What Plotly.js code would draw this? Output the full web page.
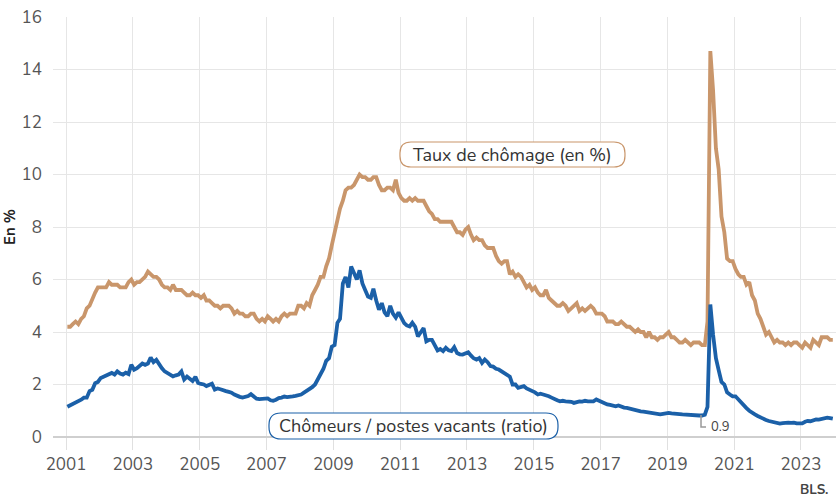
<!DOCTYPE html>
<html>
<head>
<meta charset="utf-8">
<script src="https://cdn.plot.ly/plotly-3.0.1.min.js"></script>
<style>
  html, body { margin: 0; padding: 0; background: #ffffff; }
  #chart { width: 838px; height: 499px; }
</style>
</head>
<body>
<div id="chart"></div>
<script>
// Monthly series, January 2001 to December 2023
const startYear = 2001;

// Taux de chômage (en %)
const tauxChomage = [
  4.2,4.2,4.3,4.4,4.3,4.5,4.6,4.9,5.0,5.3,5.5,5.7,
  5.7,5.7,5.7,5.9,5.8,5.8,5.8,5.7,5.7,5.7,5.9,6.0,
  5.8,5.9,5.9,6.0,6.1,6.3,6.2,6.1,6.1,6.0,5.8,5.7,
  5.7,5.6,5.8,5.6,5.6,5.6,5.5,5.4,5.4,5.5,5.4,5.4,
  5.3,5.4,5.2,5.2,5.1,5.0,5.0,4.9,5.0,5.0,5.0,4.9,
  4.7,4.8,4.7,4.7,4.6,4.6,4.7,4.7,4.5,4.4,4.5,4.4,
  4.6,4.5,4.4,4.5,4.4,4.6,4.7,4.6,4.7,4.7,4.7,5.0,
  5.0,4.9,5.1,5.0,5.4,5.6,5.8,6.1,6.1,6.5,6.8,7.3,
  7.8,8.3,8.7,9.0,9.4,9.5,9.5,9.6,9.8,10.0,9.9,9.9,
  9.8,9.8,9.9,9.9,9.6,9.4,9.4,9.5,9.5,9.4,9.8,9.3,
  9.1,9.0,9.0,9.1,9.0,9.1,9.0,9.0,9.0,8.8,8.6,8.5,
  8.3,8.3,8.2,8.2,8.2,8.2,8.2,8.0,7.8,7.8,7.7,7.9,
  8.0,7.7,7.5,7.6,7.5,7.5,7.3,7.2,7.2,7.2,6.9,6.7,
  6.6,6.7,6.7,6.2,6.3,6.1,6.2,6.1,5.9,5.7,5.8,5.6,
  5.7,5.5,5.4,5.4,5.6,5.3,5.2,5.1,5.0,5.0,5.1,5.0,
  4.8,4.9,5.0,5.1,4.8,4.9,4.8,4.9,5.0,4.9,4.7,4.7,
  4.7,4.6,4.4,4.4,4.4,4.3,4.3,4.4,4.3,4.2,4.2,4.1,
  4.0,4.1,4.0,4.0,3.8,4.0,3.8,3.8,3.7,3.8,3.8,3.9,
  4.0,3.8,3.8,3.7,3.6,3.6,3.7,3.6,3.5,3.6,3.6,3.6,
  3.5,3.5,4.4,14.7,13.2,11.0,10.2,8.4,7.8,6.8,6.7,6.7,
  6.4,6.2,6.1,6.1,5.8,5.9,5.4,5.2,4.7,4.5,4.2,3.9,
  4.0,3.8,3.6,3.7,3.6,3.6,3.5,3.6,3.5,3.6,3.6,3.5,
  3.4,3.6,3.5,3.4,3.7,3.6,3.5,3.8,3.8,3.8,3.7,3.7
];

// Chômeurs / postes vacants (ratio)
const ratioChomeursPostes = [
  1.15,1.2,1.28,1.33,1.38,1.42,1.5,1.5,1.75,1.8,2.05,2.1,
  2.25,2.3,2.38,2.42,2.44,2.38,2.5,2.42,2.38,2.45,2.4,2.75,
  2.56,2.62,2.69,2.8,2.75,2.8,3.03,2.85,2.94,2.75,2.62,2.5,
  2.42,2.38,2.31,2.35,2.38,2.5,2.19,2.3,2.2,2.13,2.29,2.06,
  2.02,2.0,1.94,1.97,2.03,1.81,1.85,1.82,1.8,1.75,1.72,1.69,
  1.62,1.56,1.53,1.5,1.52,1.56,1.63,1.55,1.46,1.44,1.45,1.45,
  1.47,1.4,1.38,1.42,1.48,1.5,1.54,1.52,1.55,1.55,1.57,1.59,
  1.62,1.69,1.75,1.81,1.9,2.0,2.2,2.4,2.6,2.9,3.0,3.44,
  3.5,4.35,4.5,5.85,6.1,5.7,6.5,6.25,6.0,6.35,5.85,5.6,
  5.35,5.3,5.65,5.2,4.85,5.1,4.75,4.6,5.0,4.7,4.55,4.75,
  4.5,4.34,4.25,4.21,4.35,4.2,3.83,4.0,4.15,3.64,3.7,3.7,
  3.5,3.3,3.35,3.27,3.4,3.3,3.27,3.42,3.2,3.15,3.14,3.2,
  3.23,3.1,3.0,2.95,3.01,2.82,2.95,2.85,2.7,2.68,2.6,2.57,
  2.5,2.45,2.35,2.3,2.0,2.0,1.87,1.9,1.94,1.85,1.81,1.75,
  1.7,1.62,1.65,1.62,1.6,1.55,1.5,1.43,1.4,1.36,1.38,1.36,
  1.36,1.34,1.3,1.33,1.36,1.35,1.38,1.36,1.35,1.36,1.43,1.38,
  1.3,1.28,1.24,1.22,1.2,1.17,1.2,1.15,1.12,1.11,1.08,1.05,
  1.05,1.02,0.98,0.97,0.95,0.93,0.92,0.9,0.9,0.86,0.88,0.9,
  0.92,0.9,0.88,0.86,0.87,0.86,0.85,0.86,0.84,0.82,0.8,0.82,
  0.82,0.85,1.15,5.05,3.9,3.0,2.55,2.1,2.0,1.7,1.62,1.55,
  1.55,1.42,1.3,1.18,1.1,1.0,0.95,0.86,0.8,0.74,0.7,0.65,
  0.61,0.58,0.55,0.52,0.51,0.53,0.55,0.55,0.54,0.55,0.52,0.51,
  0.52,0.58,0.61,0.6,0.65,0.67,0.66,0.68,0.7,0.74,0.72,0.7
];

const labelTaux = 'Taux de chômage (en %)';
const labelRatio = 'Chômeurs / postes vacants (ratio)';
const labelPreCovid = '0.9';
const sourceText = 'BLS.';
const yTitle = 'En %';

function monthDates(n) {
  const out = [];
  for (let i = 0; i < n; i++) {
    const y = startYear + Math.floor(i / 12);
    const m = (i % 12) + 1;
    out.push(y + '-' + String(m).padStart(2, '0') + '-15');
  }
  return out;
}
const dates = monthDates(tauxChomage.length);

const TAN = '#c9966b';
const BLUE = '#1b60a8';
const FONT = 'Nunito, Lato, "Open Sans", sans-serif';

function pill(w, h, r) {
  return 'M ' + (-w + r) + ',' + (-h) +
    ' L ' + (w - r) + ',' + (-h) +
    ' Q ' + w + ',' + (-h) + ' ' + w + ',' + (-h + r) +
    ' L ' + w + ',' + (h - r) +
    ' Q ' + w + ',' + h + ' ' + (w - r) + ',' + h +
    ' L ' + (-w + r) + ',' + h +
    ' Q ' + (-w) + ',' + h + ' ' + (-w) + ',' + (h - r) +
    ' L ' + (-w) + ',' + (-h + r) +
    ' Q ' + (-w) + ',' + (-h) + ' ' + (-w + r) + ',' + (-h) + ' Z';
}

const traces = [
  {
    x: dates, y: tauxChomage, type: 'scatter', mode: 'lines', name: labelTaux,
    line: { color: TAN, width: 3.8 }, hoverinfo: 'x+y'
  },
  {
    x: dates, y: ratioChomeursPostes, type: 'scatter', mode: 'lines', name: labelRatio,
    line: { color: BLUE, width: 3.8 }, hoverinfo: 'x+y'
  }
];

const layout = {
  width: 838, height: 499,
  margin: { l: 53, r: 2, t: 17, b: 62 },
  paper_bgcolor: '#ffffff', plot_bgcolor: '#ffffff',
  showlegend: false,
  font: { family: FONT, color: '#555555', size: 15 },
  xaxis: {
    type: 'date',
    range: ['2000-08-11', '2024-01-19'],
    tick0: '2001-01-01', dtick: 'M24', tickformat: '%Y',
    showgrid: true, gridcolor: '#e6e6e6', gridwidth: 1,
    ticks: 'outside', ticklen: 12, tickcolor: '#e0e0e0', tickwidth: 1,
    showline: false, zeroline: false,
    tickfont: { family: FONT, size: 17, color: '#555555' },
    ticklabelstandoff: 0,
    fixedrange: true
  },
  yaxis: {
    range: [0, 16], dtick: 2, tick0: 0,
    showgrid: true, gridcolor: '#e6e6e6', gridwidth: 1,
    zeroline: true, zerolinecolor: '#cfcfcf', zerolinewidth: 1.5,
    showline: false, ticks: '',
    tickfont: { family: FONT, size: 17, color: '#555555' },
    ticklabelstandoff: 10,
    title: { text: yTitle, standoff: 4, font: { family: FONT, size: 15, color: '#222222', weight: 700 } },
    fixedrange: true
  },
  shapes: [
    {
      type: 'path', xref: 'paper', yref: 'paper',
      xsizemode: 'pixel', ysizemode: 'pixel',
      xanchor: 0.5868, yanchor: 0.6726,
      path: pill(112.5, 12.5, 11),
      fillcolor: '#ffffff', line: { color: TAN, width: 1.2 }, layer: 'above'
    },
    {
      type: 'path', xref: 'paper', yref: 'paper',
      xsizemode: 'pixel', ysizemode: 'pixel',
      xanchor: 0.4604, yanchor: 0.0262,
      path: pill(144.5, 13, 12),
      fillcolor: '#ffffff', line: { color: BLUE, width: 1.2 }, layer: 'above'
    },
    {
      type: 'path', xref: 'paper', yref: 'paper',
      xsizemode: 'pixel', ysizemode: 'pixel',
      xanchor: 0.8276, yanchor: 0.0238,
      path: 'M 0,12 L 0,0 L 5,0',
      line: { color: '#999999', width: 1.5 }, layer: 'above'
    }
  ],
  annotations: [
    {
      xref: 'paper', yref: 'paper', x: 0.5868, y: 0.6726,
      xanchor: 'center', yanchor: 'middle', showarrow: false,
      text: labelTaux,
      font: { family: FONT, size: 18, color: '#333333' }
    },
    {
      xref: 'paper', yref: 'paper', x: 0.4604, y: 0.0262,
      xanchor: 'center', yanchor: 'middle', showarrow: false,
      text: labelRatio,
      font: { family: FONT, size: 18, color: '#333333' }
    },
    {
      xref: 'paper', yref: 'paper', x: 0.8276, y: 0.0238,
      xanchor: 'left', yanchor: 'middle', xshift: 8, showarrow: false,
      text: labelPreCovid,
      font: { family: FONT, size: 13, color: '#444444' }
    },
    {
      xref: 'paper', yref: 'paper', x: 1, y: -0.124,
      xanchor: 'right', yanchor: 'middle', xshift: -6, showarrow: false,
      text: '<b>' + sourceText + '</b>',
      font: { family: FONT, size: 13.5, color: '#444444' }
    }
  ]
};

Plotly.newPlot('chart', traces, layout, { displayModeBar: false, staticPlot: true });
</script>
</body>
</html>
